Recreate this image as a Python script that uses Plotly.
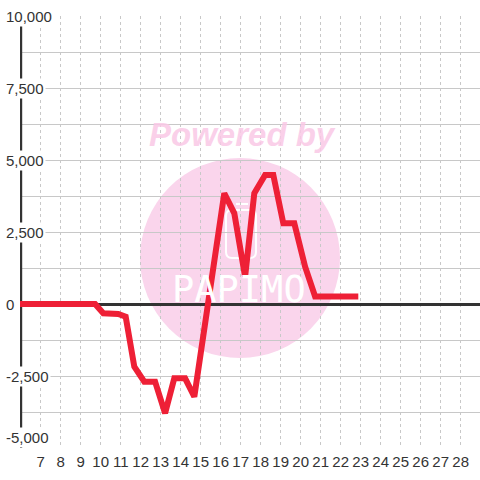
import plotly.graph_objects as go

# ---- data ----
x_vals = [5.68, 9.72, 10.13, 10.88, 11.25, 11.68, 12.18, 12.72, 13.22, 13.68, 14.22, 14.68,
          16.18, 16.68, 17.22, 17.68, 18.22, 18.63, 19.13, 19.68, 20.22, 20.72, 22.88]
y_vals = [0, 0, -323, -347, -440, -2177, -2698, -2698, -3795, -2580, -2580, -3219,
          3844, 3149, 948, 3844, 4479, 4479, 2802, 2802, 1295, 260, 260]

y_tick_vals = [-5000, -2500, 0, 2500, 5000, 7500, 10000]
y_tick_text = ["-5,000", "-2,500", "0", "2,500", "5,000", "7,500", "10,000"]
x_tick_vals = list(range(7, 29))
x_tick_text = [str(v) for v in x_tick_vals]

# ---- geometry ----
W, H = 480, 480
ML, MR, MT, MB = 20, 0, 16, 32
X0 = 5.965
X1 = X0 + (W - ML - MR) / 20.0
Y0, Y1 = -5000, 10000

def px_x(p):
    return X0 + (p - ML) * (X1 - X0) / (W - ML - MR)

def px_y(p):
    return Y1 - (p - MT) * (Y1 - Y0) / (H - MT - MB)

FONT = "Liberation Sans, Arial, sans-serif"
TXT = "#333333"
GRID = "#c8c8c8"

fig = go.Figure()
fig.add_trace(go.Scatter(
    x=x_vals, y=y_vals, mode="lines",
    line=dict(color="#ee2036", width=6),
    hoverinfo="skip", showlegend=False,
))

shapes = []
# watermark circle
shapes.append(dict(type="circle", xref="x", yref="y", layer="below",
                   x0=px_x(140), x1=px_x(340), y0=px_y(358), y1=px_y(158),
                   fillcolor="#fad5ec", line=dict(width=0)))
# logo icon (rounded rectangle)
lx0, lx1, ly0, ly1 = px_x(226), px_x(256), px_y(210), px_y(258)
r = px_x(232) - px_x(226)
ry = px_y(210) - px_y(216)
path = (f"M {lx0+r},{ly0} L {lx1-r},{ly0} Q {lx1},{ly0} {lx1},{ly0-ry} "
        f"L {lx1},{ly1+ry} Q {lx1},{ly1} {lx1-r},{ly1} L {lx0+r},{ly1} "
        f"Q {lx0},{ly1} {lx0},{ly1+ry} L {lx0},{ly0-ry} Q {lx0},{ly0} {lx0+r},{ly0} Z")
shapes.append(dict(type="path", xref="x", yref="y", layer="below", path=path,
                   line=dict(color="white", width=2)))
shapes.append(dict(type="line", xref="x", yref="y", layer="below",
                   x0=px_x(236), x1=px_x(248), y0=px_y(204), y1=px_y(204),
                   line=dict(color="white", width=2)))
# y axis line
shapes.append(dict(type="line", xref="x", yref="y", layer="between",
                   x0=6, x1=6, y0=Y0, y1=Y1,
                   line=dict(color=TXT, width=3)))

annotations = []
annotations.append(dict(text="<b><i>Powered by</i></b>", xref="x", yref="y",
                        x=px_x(242), y=px_y(134), showarrow=False,
                        font=dict(family="Liberation Sans, Arial", size=33,
                                  color="rgba(250,200,230,0.85)")))
annotations.append(dict(text="PAPIMO", xref="x", yref="y",
                        x=px_x(239), y=px_y(289), showarrow=False,
                        font=dict(family="DejaVu Sans Mono", size=37, color="white")))

for v, t in zip(y_tick_vals, y_tick_text):
    annotations.append(dict(
        text=t, xref="paper", yref="y", x=(4 - ML) / (W - ML - MR), y=v,
        xanchor="left", yanchor="bottom" if v == Y0 else "middle",
        showarrow=False, bgcolor="white", borderpad=1,
        font=dict(family=FONT, size=15, color=TXT)))

fig.update_layout(
    width=W, height=H,
    margin=dict(l=ML, r=MR, t=MT, b=MB, pad=0),
    paper_bgcolor="white", plot_bgcolor="white",
    shapes=shapes, annotations=annotations,
    xaxis=dict(range=[X0, X1], tickmode="array", tickvals=x_tick_vals, ticktext=x_tick_text,
               showgrid=True, gridcolor=GRID, gridwidth=1, griddash="3px,3px",
               zeroline=False, showline=False, ticks="", fixedrange=True,
               ticklabelstandoff=3,
               tickfont=dict(family=FONT, size=15, color=TXT)),
    yaxis=dict(range=[Y0, Y1], tickmode="linear", tick0=0, dtick=1250,
               showticklabels=False, showgrid=True, gridcolor=GRID, gridwidth=1,
               zeroline=True, zerolinecolor=TXT, zerolinewidth=3,
               showline=False, ticks="", fixedrange=True),
)

fig.write_html("out.html", config={"displayModeBar": False},
               post_script="document.body.style.margin='0';document.body.style.padding='0';")
